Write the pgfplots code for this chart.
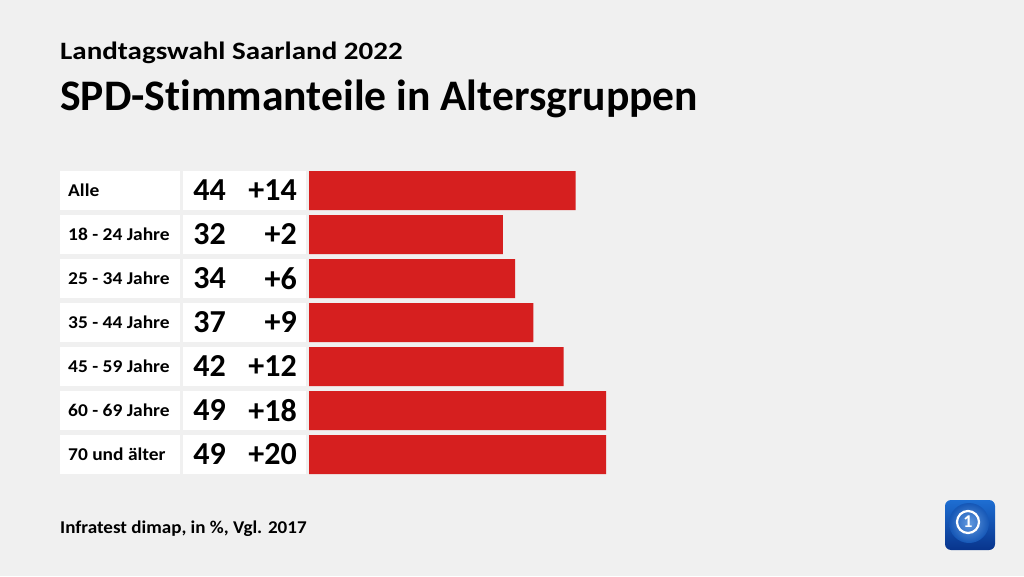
\documentclass[border=0pt]{standalone}
\usepackage{pgfplots}
\pgfplotsset{compat=1.18}
\usepackage{fontspec}
\setmainfont{Carlito}[Ligatures=NoCommon]
\definecolor{bg}{RGB}{240,240,240}
\definecolor{barred}{RGB}{214,31,31}
\definecolor{logotop}{RGB}{30,110,210}
\definecolor{logobot}{RGB}{8,52,140}
\begin{document}
\begin{tikzpicture}[x=1pt,y=1pt]
\fill[bg] (0,0) rectangle (1024,576);
\useasboundingbox (0,0) rectangle (1024,576);

% titles
\node[anchor=base west, inner sep=0pt, font=\fontsize{25}{28}\selectfont\bfseries\addfontfeatures{FakeStretch=1.16}] at (60,516) {Landtagswahl Saarland 2022};
\node[anchor=base west, inner sep=0pt, font=\fontsize{43.6}{48}\selectfont\bfseries] at (60,465) {SPD-Stimmanteile in Altersgruppen};
\node[anchor=base west, inner sep=0pt, font=\fontsize{18}{20}\selectfont\bfseries\addfontfeatures{FakeStretch=1.06}] at (60,43) {Infratest dimap, in \%, Vgl. 2017};

% white cells, group labels, shares and changes
\foreach \lab/\val/\chg [count=\k from 0] in {Alle/44/+14, 18 - 24 Jahre/32/+2, 25 - 34 Jahre/34/+6, 35 - 44 Jahre/37/+9, 45 - 59 Jahre/42/+12, 60 - 69 Jahre/49/+18, 70 und älter/49/+20}{
  \pgfmathsetmacro{\yc}{385.5-44*\k}
  \fill[white] (60,\yc-19.5) rectangle (180,\yc+19.5);
  \fill[white] (183,\yc-19.5) rectangle (306,\yc+19.5);
  \node[anchor=west, inner sep=0pt, font=\fontsize{18}{20}\selectfont\bfseries\addfontfeatures{FakeStretch=1.08}] at (68,\yc) {\lab};
  \node[anchor=east, inner sep=0pt, font=\fontsize{32}{36}\selectfont\bfseries] at (226,\yc) {\val};
  \node[anchor=east, inner sep=0pt, font=\fontsize{32}{36}\selectfont\bfseries] at (297,\yc) {\chg};
}

\begin{axis}[
  at={(309pt,99.5pt)}, anchor=south west,
  scale only axis, width=297pt, height=308pt,
  xmin=0, xmax=49, ymin=-0.5, ymax=6.5,
  y dir=reverse, axis lines=none,
  xbar, bar width=39pt,
]
\addplot[fill=barred, draw=none, bar shift=0pt] coordinates {
  (44,0) (32,1) (34,2) (37,3) (42,4) (49,5) (49,6)
};
\end{axis}

% logo
\shade[top color=logotop, bottom color=logobot, rounded corners=6pt] (945,26) rectangle (995,76);
\shade[inner color=logotop!70!white, outer color=logotop!60!logobot] (969,53) circle (20);
\draw[white, line width=2.2pt] (968,54) circle (11);
\node[white, font=\fontsize{18}{20}\selectfont\bfseries] at (968,54) {1};
\end{tikzpicture}
\end{document}
